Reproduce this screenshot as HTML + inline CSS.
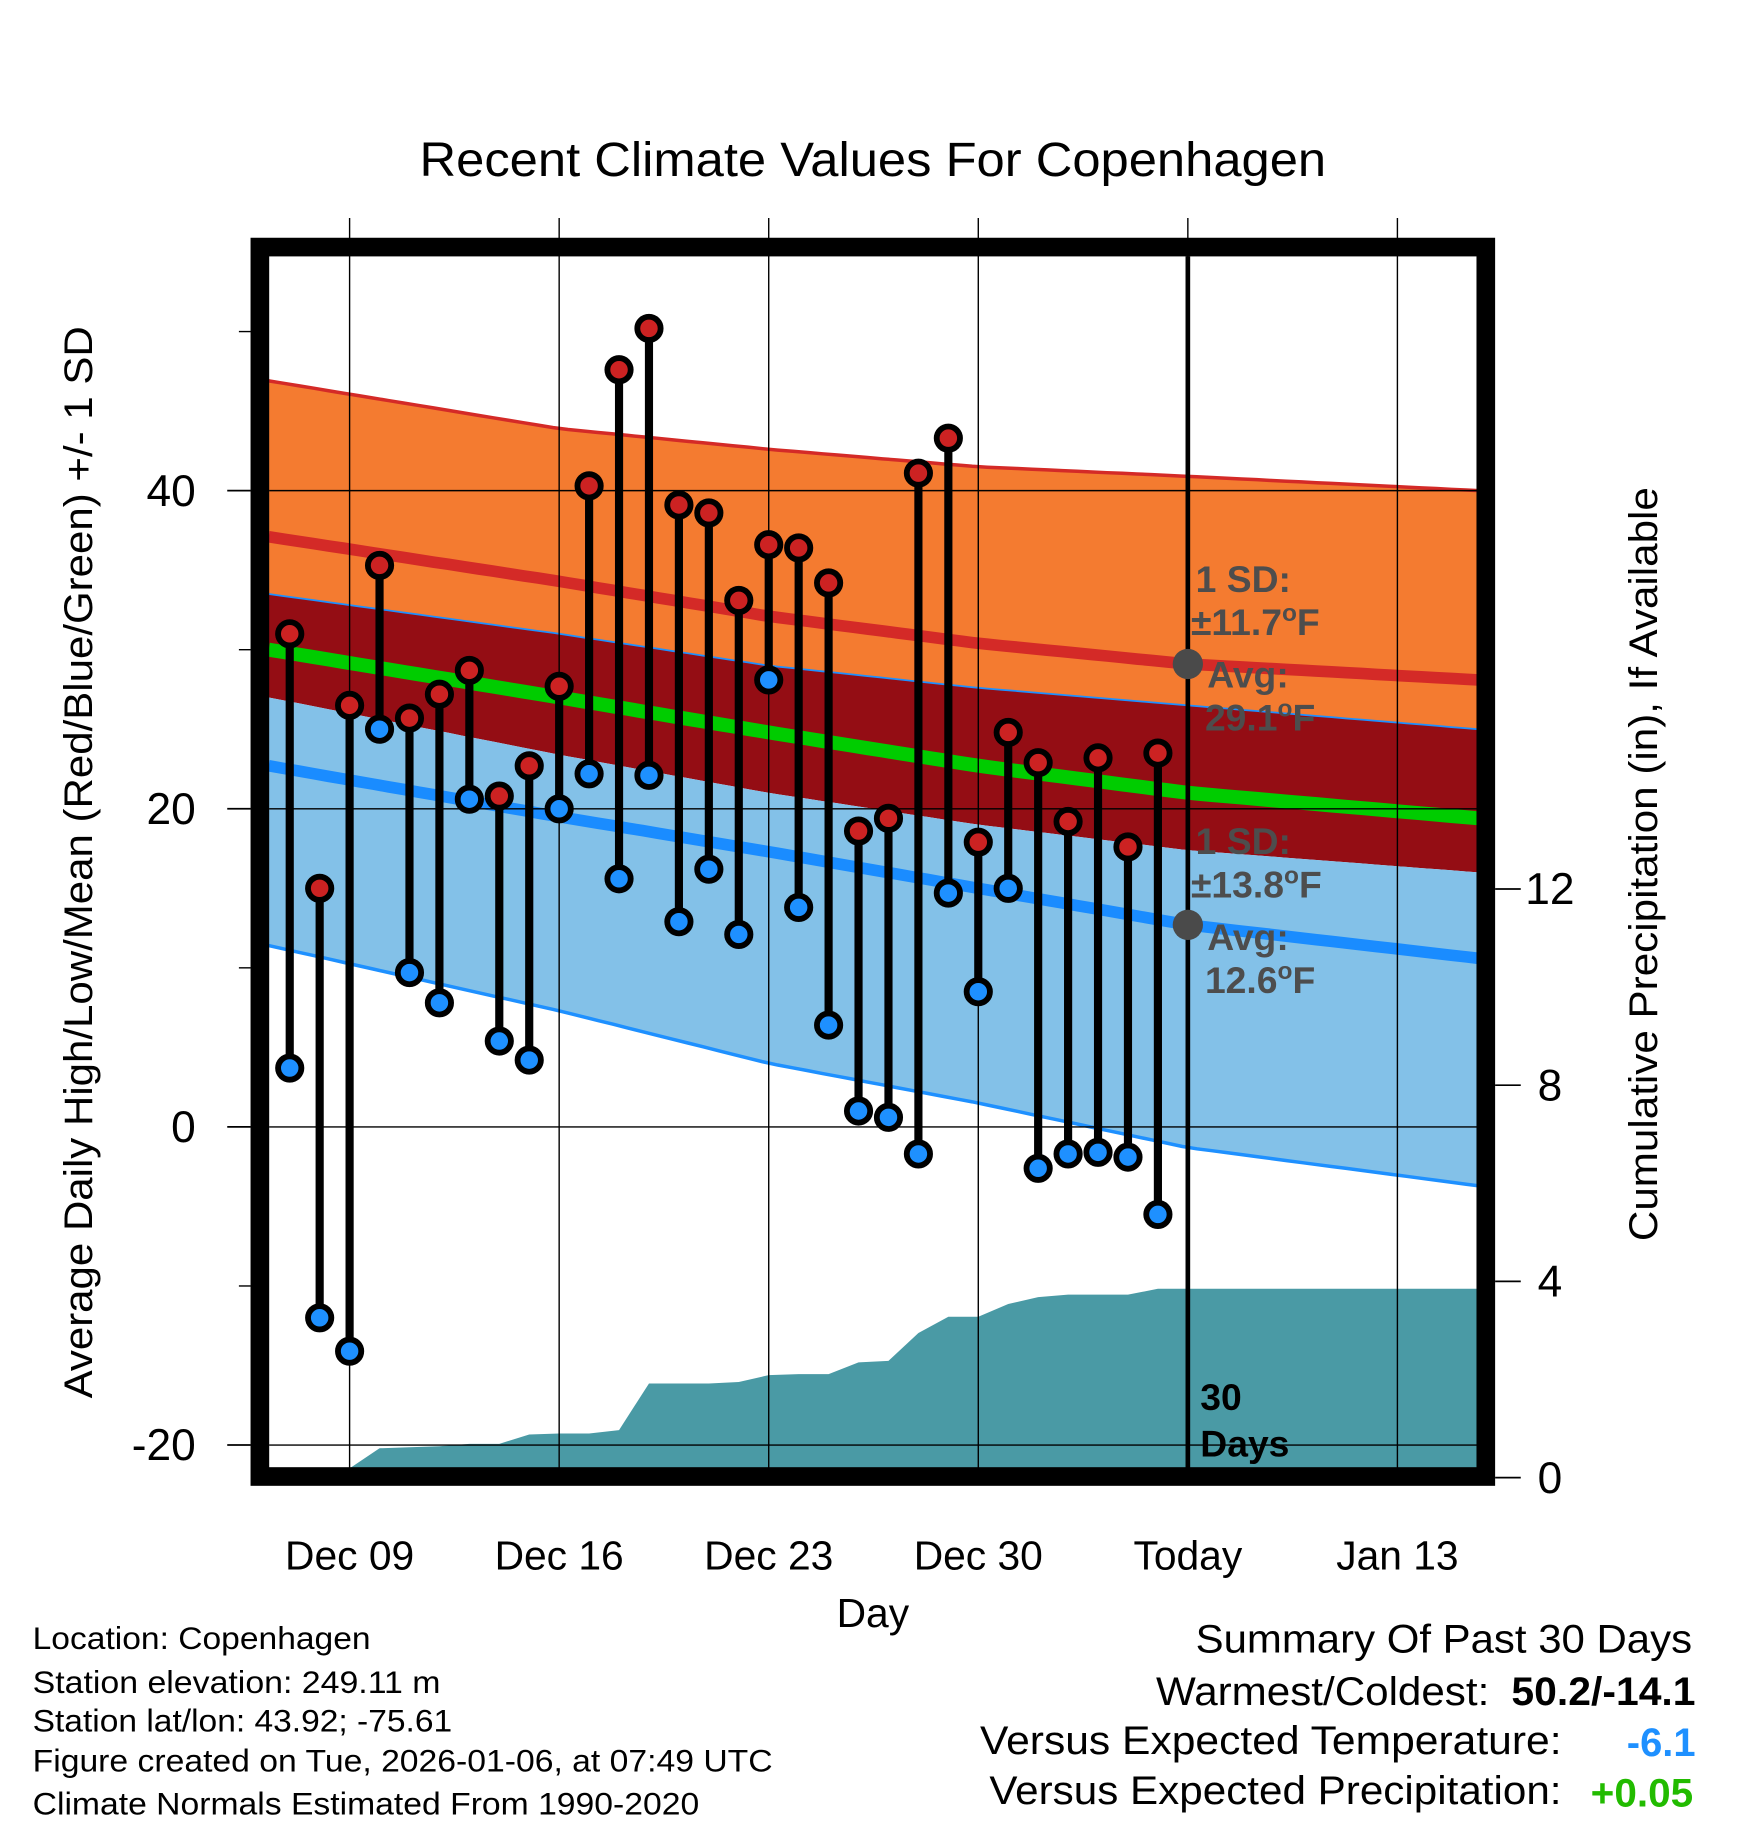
<!DOCTYPE html>
<html><head><meta charset="utf-8"><style>
html,body{margin:0;padding:0;background:#fff;}
svg{display:block;font-family:"Liberation Sans",Arial,sans-serif;}
</style></head><body>
<svg id="chart" width="1748" height="1828" viewBox="0 0 1500 1568.6" xmlns="http://www.w3.org/2000/svg">
<rect width="1500" height="1568.6" fill="#fff"/>
<text x="360" y="151" font-size="41" textLength="778" lengthAdjust="spacingAndGlyphs">Recent Climate Values For Copenhagen</text>
<g id="plot"></g>
<text transform="translate(79,1200) rotate(-90)" font-size="34" textLength="920" lengthAdjust="spacingAndGlyphs">Average Daily High/Low/Mean (Red/Blue/Green) +/- 1 SD</text>
<text transform="translate(1422,1065) rotate(-90)" font-size="34" textLength="647" lengthAdjust="spacingAndGlyphs">Cumulative Precipitation (in), If Available</text>
<text x="749" y="1396" font-size="35" text-anchor="middle">Day</text>
<g font-size="27">
<text x="28" y="1415" textLength="290" lengthAdjust="spacingAndGlyphs">Location: Copenhagen</text>
<text x="28" y="1453" textLength="350" lengthAdjust="spacingAndGlyphs">Station elevation: 249.11 m</text>
<text x="28" y="1486" textLength="360" lengthAdjust="spacingAndGlyphs">Station lat/lon: 43.92; -75.61</text>
<text x="28" y="1520" textLength="635" lengthAdjust="spacingAndGlyphs">Figure created on Tue, 2026-01-06, at 07:49 UTC</text>
<text x="28" y="1557" textLength="572" lengthAdjust="spacingAndGlyphs">Climate Normals Estimated From 1990-2020</text>
</g>
<g font-size="34">
<text x="1026" y="1418" textLength="426" lengthAdjust="spacingAndGlyphs">Summary Of Past 30 Days</text>
<text x="992" y="1463" textLength="286" lengthAdjust="spacingAndGlyphs">Warmest/Coldest:</text>
<text x="1297" y="1463" font-weight="bold" textLength="158" lengthAdjust="spacingAndGlyphs">50.2/-14.1</text>
<text x="841" y="1505" textLength="499" lengthAdjust="spacingAndGlyphs">Versus Expected Temperature:</text>
<text x="1396" y="1507" font-weight="bold" fill="#1e90ff" textLength="59" lengthAdjust="spacingAndGlyphs">-6.1</text>
<text x="849" y="1548" textLength="491" lengthAdjust="spacingAndGlyphs">Versus Expected Precipitation:</text>
<text x="1365" y="1550" font-weight="bold" fill="#22bb00" textLength="88" lengthAdjust="spacingAndGlyphs">+0.05</text>
</g>
</svg>
<script>
const days=[-2,-1,0,1,2,3,4,5,6,7,8,9,10,11,12,13,14,15,16,17,18,19,20,21,22,23,24,25,26,27];
const highs=[31.0,15.0,26.5,35.3,25.7,27.2,28.7,20.8,22.7,27.7,40.3,47.6,50.2,39.1,38.6,33.1,36.6,36.4,34.2,18.6,19.4,41.1,43.3,17.9,24.8,22.9,19.2,23.2,17.6,23.5];
const lows=[3.7,-12.0,-14.1,25.0,9.7,7.8,20.6,5.4,4.2,20.0,22.2,15.6,22.1,12.9,16.2,12.1,28.1,13.8,6.4,1.0,0.6,-1.7,14.7,8.5,15.0,-2.6,-1.7,-1.6,-1.9,-5.5];
const precip=[0,0,0,0.6,0.62,0.64,0.69,0.69,0.88,0.9,0.9,0.97,1.92,1.92,1.92,1.95,2.09,2.11,2.11,2.35,2.38,2.95,3.28,3.28,3.54,3.68,3.73,3.73,3.73,3.85];
const normDays=[-2.7,7,14,21,28,37.7];
const highSDup=[46.9,43.9,42.6,41.5,40.9,40.0];
const highAvg=[37.1,34.3,32.1,30.4,29.1,28.1];
const highSDdn=[33.5,31.0,29.0,27.6,26.5,25.0];
const meanAvg=[30.0,27.0,24.8,22.7,21.0,19.4];
const lowSDup=[27.0,23.4,21.0,19.0,17.4,16.0];
const lowAvg=[22.7,19.5,17.3,15.0,12.7,10.6];
const lowSDdn=[11.4,7.3,4.0,1.5,-1.3,-3.7];
const yTicks=[-20,0,20,40];
const yMinor=[-10,10,30,50];
const y2Ticks=[0,4,8,12];
const xTickDays=[0,7,14,21,28,35];
const xTickLabels=["Dec 09","Dec 16","Dec 23","Dec 30","Today","Jan 13"];
const todayDay=28;

const L=231,R=1268,T=220,B=1260;
const X=d=>300+25.69*d;
const Y=v=>967-13.65*v;
const P=p=>Math.min(B,1268-42.1*p);
const NS="http://www.w3.org/2000/svg";
const g=document.getElementById('plot');
function mk(tag,attrs,parent){const e=document.createElementNS(NS,tag);for(const k in attrs)e.setAttribute(k,attrs[k]);(parent||g).appendChild(e);return e;}
function interp(arr,d){for(let i=0;i<normDays.length-1;i++){if(d<=normDays[i+1]){const t=(d-normDays[i])/(normDays[i+1]-normDays[i]);return arr[i]+(arr[i+1]-arr[i])*t;}}return arr[arr.length-1];}
const sampleDays=[];for(let d=normDays[0];d<normDays[normDays.length-1];d+=0.5)sampleDays.push(d);
sampleDays.push(normDays[normDays.length-1]);
function linePts(arr){return sampleDays.map(d=>X(d).toFixed(1)+','+Y(interp(arr,d)).toFixed(1));}
function band(top,bot,fill,name){const pts=linePts(top).concat(linePts(bot).reverse());const e=mk('polygon',{points:pts.join(' '),fill:fill});

}
function curve(arr,color,w,name){const e=mk('polyline',{points:linePts(arr).join(' '),fill:'none',stroke:color,'stroke-width':w});

}

band(highSDup,highSDdn,'#f47b30','high-sd-band');
band(highSDdn,lowSDup,'#940d14','overlap-band');
band(lowSDup,lowSDdn,'#83c1e8','low-sd-band');
curve(highSDup,'#d42a27',3,'high-upper-sd-line');
curve(highSDdn,'#1e90ff',1.5,'high-lower-sd-line');
curve(lowSDdn,'#1e90ff',3,'low-lower-sd-line');
curve(highAvg,'#d42a27',10,'high-average-line');
curve(meanAvg,'#00cc00',12,'mean-average-line');
curve(lowAvg,'#1a8cff',10,'low-average-line');

{const pts=[X(days[0])+','+B];days.forEach((d,i)=>pts.push(X(d)+','+P(precip[i])));
pts.push(X(days[days.length-1]+0.05)+','+P(precip[precip.length-1]));pts.push(R+','+P(precip[precip.length-1]));pts.push(R+','+B);
const e=mk('polygon',{points:pts.join(' '),fill:'#4a9aa5'});

}

yTicks.forEach(v=>{const e=mk('line',{x1:L,x2:R,y1:Y(v),y2:Y(v),stroke:'#000','stroke-width':1.2});


const t=mk('line',{x1:195,x2:215,y1:Y(v),y2:Y(v),stroke:'#000','stroke-width':1.5});


const lb=mk('text',{x:168,y:Y(v)+13,'font-size':38,'text-anchor':'end'});lb.textContent=v;

});
yMinor.forEach(v=>{const t=mk('line',{x1:205,x2:215,y1:Y(v),y2:Y(v),stroke:'#000','stroke-width':1.2});

});
y2Ticks.forEach(p=>{const y=1268-42.1*p;const t=mk('line',{x1:1283,x2:1305,y1:y,y2:y,stroke:'#000','stroke-width':1.5});


const lb=mk('text',{x:1330,y:y+13,'font-size':38,'text-anchor':'middle'});lb.textContent=p;

});
xTickDays.forEach((d,i)=>{const e=mk('line',{x1:X(d),x2:X(d),y1:187,y2:B,stroke:'#000','stroke-width':1.2});


const lb=mk('text',{x:X(d),y:1347,'font-size':35,'text-anchor':'middle'});lb.textContent=xTickLabels[i];

});

{const e=mk('line',{x1:X(todayDay),x2:X(todayDay),y1:T,y2:B,stroke:'#000','stroke-width':4});

}

days.forEach((d,i)=>{const x=X(d);
const s=mk('line',{x1:x,x2:x,y1:Y(highs[i]),y2:Y(lows[i]),stroke:'#000','stroke-width':7});

});
days.forEach((d,i)=>{const x=X(d);
const h=mk('circle',{cx:x,cy:Y(highs[i]),r:10,fill:'#cc2222',stroke:'#000','stroke-width':5});


const l=mk('circle',{cx:x,cy:Y(lows[i]),r:10,fill:'#1e90ff',stroke:'#000','stroke-width':5});

});

function ann(txt,x,y,name){const t=mk('text',{x:x,y:y,'font-size':32,'font-weight':'bold',fill:'#4d4d4d'});t.innerHTML=txt;

}
const hiA=interp(highAvg,todayDay),loA=interp(lowAvg,todayDay);
{const c=mk('circle',{cx:X(todayDay),cy:Y(hiA),r:13,fill:'#4a4a4a'});


const c2=mk('circle',{cx:X(todayDay),cy:Y(loA),r:13,fill:'#4a4a4a'});

}
const deg='<tspan dy="-12" font-size="21">o</tspan><tspan dy="12">F</tspan>';
ann('1 SD:',1026,508,'high-sd-label');
ann('±11.7'+deg,1022,545,'high-sd-value');
ann('Avg:',1036,590,'high-avg-label');
ann('29.1'+deg,1034,627,'high-avg-value');
ann('1 SD:',1026,733,'low-sd-label');
ann('±13.8'+deg,1022,770,'low-sd-value');
ann('Avg:',1036,815,'low-avg-label');
ann('12.6'+deg,1034,852,'low-avg-value');
{const t=mk('text',{x:1030,y:1210,'font-size':32,'font-weight':'bold'});t.textContent='30';


const t2=mk('text',{x:1030,y:1250,'font-size':32,'font-weight':'bold'});t2.textContent='Days';

}

{const f=mk('rect',{x:223,y:212,width:1052,height:1055,fill:'none',stroke:'#000','stroke-width':16});

}
</script>
</body></html>
